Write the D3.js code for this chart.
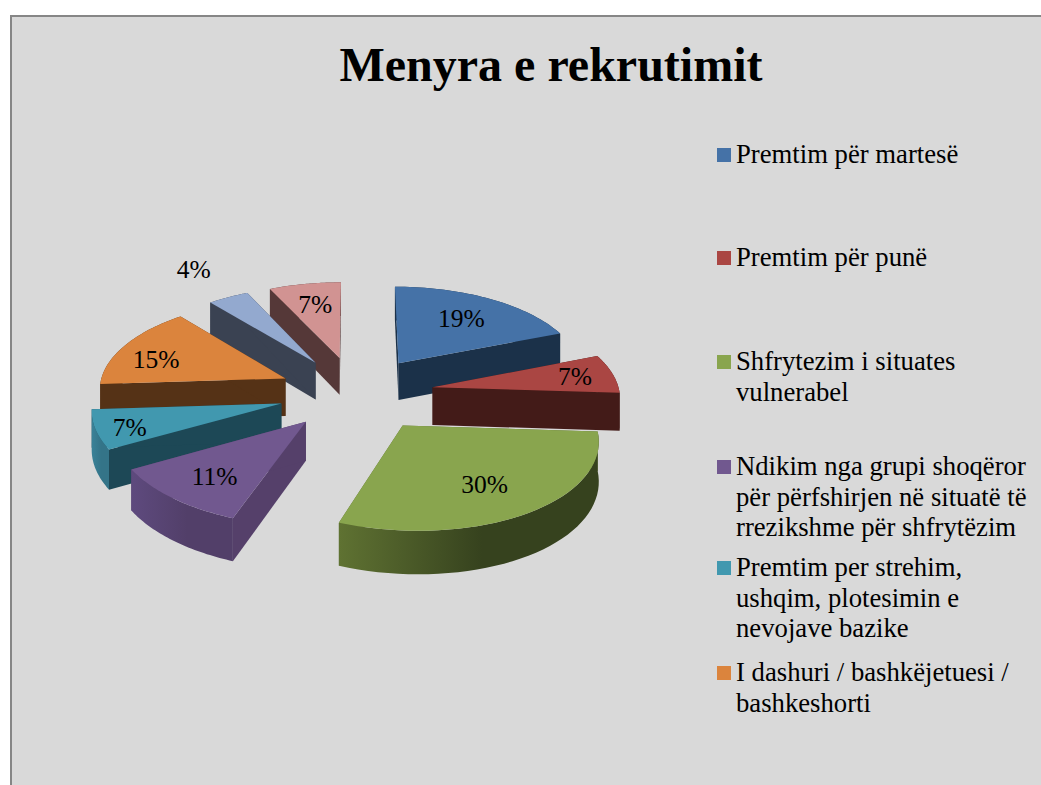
<!DOCTYPE html>
<html><head><meta charset="utf-8">
<script src="https://cdn.jsdelivr.net/npm/d3@7"></script>
<style>html,body{margin:0;padding:0;background:#fff;overflow:hidden}svg{display:block}text{font-family:"Liberation Serif",serif;fill:#000}</style>
</head><body><svg id="c" width="1041" height="785"></svg>
<script>
const title = "Menyra e rekrutimit";
const values = [19, 7, 30, 11, 7, 15, 4, 7];
const labels = ["19%", "7%", "30%", "11%", "7%", "15%", "4%", "7%"];
const legendLines = [
  ["Premtim për martesë"],
  ["Premtim për punë"],
  ["Shfrytezim i situates", "vulnerabel"],
  ["Ndikim nga grupi shoqëror", "për përfshirjen në situatë të", "rrezikshme për shfrytëzim"],
  ["Premtim per strehim,", "ushqim, plotesimin e", "nevojave bazike"],
  ["I dashuri / bashkëjetuesi /", "bashkeshorti"]
];
const legendFirstY = [155, 258, 362, 467, 568, 673];
const topColors = ["#4572a7", "#aa4643", "#89a54e", "#71588f", "#4198af", "#db843d", "#93a9cf", "#d19392"];
const wallColors = ["#1b3149", "#431b18", "#5a6d30", "#55406a", "#1d4856", "#553216", "#3a4252", "#553838"];
const outerFrom = ["#1b3149", "#431b18", "#5f7232", "#5e4a7e", "#3a8298", "#553216", "#3a4252", "#553838"];
const outerTo = ["#1b3149", "#431b18", "#36421e", "#523f69", "#347488", "#553216", "#3a4252", "#553838"];
const labelFrac = [0.67, 0.79, 0.67, 0.70, 0.82, 0.80, 1.44, 0.68];
const labelDy = [-1, 0, 2, 3, 3, 8, -2, -2];

const svg = d3.select("#c");
svg.append("rect").attr("x", 11).attr("y", 16).attr("width", 1040).attr("height", 780)
  .attr("fill", "#d9d9d9").attr("stroke", "#868686").attr("stroke-width", 2);
svg.append("text").attr("x", 551).attr("y", 81).attr("text-anchor", "middle")
  .attr("font-size", 48).attr("font-weight", "bold").text(title);

const cx = 356, cy = 431, R = 187, explode = 78, tilt = 0.495, D = 2000, H = 38, shear = 0.05;
function project(x, f, z) {
  const s = D / (D - f);
  return [cx + (x + Math.max(0, f) * shear) * s, cy + (f * tilt - z) * s];
}
function pt(mid, a, rho, z) {
  const x = explode * Math.sin(mid) + rho * Math.sin(a);
  const f = -explode * Math.cos(mid) - rho * Math.cos(a);
  return project(x, f, z);
}
const arcs = d3.pie().sort(null).value(d => d)(values).map((d, i) => ({
  ...d, i, mid: (d.startAngle + d.endAngle) / 2
}));
const line = d3.line();
const defs = svg.append("defs");
const order = arcs.slice().sort((a, b) => (-Math.cos(a.mid)) - (-Math.cos(b.mid)));
const pie = svg.append("g");

order.forEach(d => {
  const n = 40;
  const as = d3.range(n + 1).map(k => d.startAngle + (d.endAngle - d.startAngle) * k / n);
  const rimTop = as.map(a => pt(d.mid, a, R, H));
  const rimBot = as.map(a => pt(d.mid, a, R, 0));
  const apexTop = pt(d.mid, 0, 0, H), apexBot = pt(d.mid, 0, 0, 0);
  const g = pie.append("g");
  [d.startAngle, d.endAngle].forEach(a => {
    const t = pt(d.mid, a, R, H), b = pt(d.mid, a, R, 0);
    g.append("path").attr("d", line([apexTop, t, b, apexBot]) + "Z").attr("fill", wallColors[d.i]);
  });
  const id = "o" + d.i;
  const xs = rimBot.map(p => p[0]);
  const lg = defs.append("linearGradient").attr("id", id).attr("gradientUnits", "userSpaceOnUse")
    .attr("x1", d3.min(xs)).attr("x2", d3.min(xs) + (d3.max(xs) - d3.min(xs)) * 0.55).attr("y1", 0).attr("y2", 0);
  lg.append("stop").attr("offset", 0).attr("stop-color", outerFrom[d.i]);
  lg.append("stop").attr("offset", 1).attr("stop-color", outerTo[d.i]);
  g.append("path").attr("d", line(rimTop.concat(rimBot.slice().reverse())) + "Z").attr("fill", `url(#${id})`);
  g.append("path").attr("d", line([apexTop].concat(rimTop)) + "Z").attr("fill", topColors[d.i]);
});

arcs.forEach(d => {
  const p = pt(d.mid, d.mid, R * labelFrac[d.i], H);
  svg.append("text").attr("x", p[0]).attr("y", p[1] + 8.5 + labelDy[d.i]).attr("text-anchor", "middle")
    .attr("font-size", 25.5).text(labels[d.i]);
});

const leg = svg.append("g");
legendLines.forEach((lines, i) => {
  const y0 = legendFirstY[i];
  leg.append("rect").attr("x", 717).attr("y", y0 - 7).attr("width", 14).attr("height", 14).attr("fill", topColors[i]);
  lines.forEach((t, k) => {
    leg.append("text").attr("x", 736).attr("y", y0 + 8 + k * 30.7).attr("font-size", 26.7).text(t);
  });
});
</script></body></html>
